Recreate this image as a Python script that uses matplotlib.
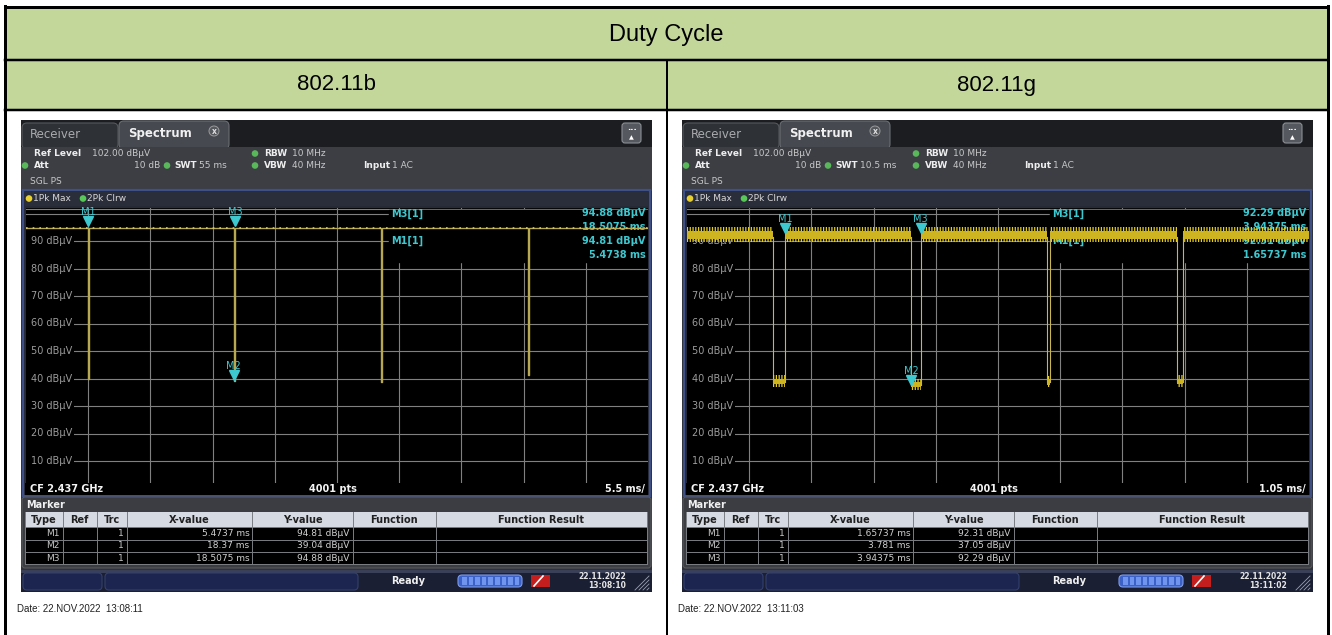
import matplotlib
matplotlib.use("Agg")
import matplotlib.pyplot as plt
from matplotlib.patches import Rectangle, FancyBboxPatch, Circle
from matplotlib import transforms

W, H = 1332, 635

# values
panel_names = ["802.11b", "802.11g"]
sweep_ms = [55.0, 10.5]
swt_text = ["55 ms", "10.5 ms"]
div_text = ["5.5 ms/", "1.05 ms/"]
clock_text = [["22.11.2022", "13:08:10"], ["22.11.2022", "13:11:02"]]
date_text = ["Date: 22.NOV.2022  13:08:11", "Date: 22.NOV.2022  13:11:03"]
level_ticks = [10, 20, 30, 40, 50, 60, 70, 80, 90]

# 802.11b trace: flat top, narrow gaps
b_on_db = 94.85
b_gap_ms = [5.47, 18.37, 31.36, 44.40]
b_gap_db = [40.0, 39.04, 38.6, 41.3]

# 802.11g trace: noisy top band, wider gaps
g_on_lo = 89.8
g_on_hi = 95.0
g_gap_start = [1.45, 3.781, 6.07, 8.27]
g_gap_end = [1.657, 3.944, 6.13, 8.37]
g_gap_db = [38.8, 37.6, 38.6, 38.8]

marker_names = ["M1", "M2", "M3"]
marker_ms = [[5.4737, 18.37, 18.5075], [1.65737, 3.781, 3.94375]]
marker_db = [[94.81, 39.04, 94.88], [92.31, 37.05, 92.29]]
x_value_text = [["5.4737 ms", "18.37 ms", "18.5075 ms"],
                ["1.65737 ms", "3.781 ms", "3.94375 ms"]]
y_value_text = [["94.81 dBµV", "39.04 dBµV", "94.88 dBµV"],
                ["92.31 dBµV", "37.05 dBµV", "92.29 dBµV"]]
info_text = [["94.88 dBµV", "18.5075 ms", "94.81 dBµV", "5.4738 ms"],
             ["92.29 dBµV", "3.94375 ms", "92.31 dBµV", "1.65737 ms"]]

GREEN = "#c4d79b"
GRID = "#808080"
CYAN = "#3ec8d0"
SCREEN_X = [21, 682]

plt.rcParams["font.family"] = ["DejaVu Sans"]
plt.rcParams["hatch.linewidth"] = 0.9
fig = plt.figure(figsize=(W / 100, H / 100), dpi=100)
bg = fig.add_axes([0, 0, 1, 1])
bg.set_xlim(0, W)
bg.set_ylim(H, 0)
bg.axis("off")


def pt(p):
    return p * 0.72


def rect(x, y, w, h, color, **kw):
    bg.add_patch(Rectangle((x, y), w, h, facecolor=color, edgecolor="none", **kw))


def rbox(x, y, w, h, color, edge="none", r=4, lw=0.8):
    bg.add_patch(FancyBboxPatch((x, y), w, h, boxstyle="round,pad=0,rounding_size=%g" % r,
                                facecolor=color, edgecolor=edge, linewidth=lw))


def txt(x, y, s, size=6.5, color="#d8d8d8", weight="normal", ha="left", **kw):
    bg.text(x, y, s, fontsize=size, color=color, fontweight=weight, ha=ha, va="center", **kw)


# ---- the outer table ----
rect(5, 7, 1323, 52, GREEN)
rect(5, 60, 1323, 49, GREEN)
bg.plot([5, 1328], [7, 7], color="black", lw=pt(3))
bg.plot([5, 1328], [59.5, 59.5], color="black", lw=pt(2.5))
bg.plot([5, 1328], [109.5, 109.5], color="black", lw=pt(2.5))
bg.plot([5, 5], [5.5, H], color="black", lw=pt(3))
bg.plot([1328, 1328], [5.5, H], color="black", lw=pt(3))
bg.plot([667, 667], [59.5, H], color="black", lw=pt(2))
bg.text(666, 35, "Duty Cycle", fontsize=17, family="Liberation Sans", ha="center", va="center")
bg.text(336, 85, panel_names[0], fontsize=16, family="Liberation Sans", ha="center", va="center")
bg.text(997, 85, panel_names[1], fontsize=16, family="Liberation Sans", ha="center", va="center")


def draw_chrome(x0, i):
    sw_w = 631
    rect(x0, 120, sw_w, 472, "#2f3136")
    # tab bar
    rect(x0, 120, sw_w, 27, "#1b1d21")
    rbox(x0 + 1, 123, 96, 26, "#2e3136", edge="#54575c", r=5)
    txt(x0 + 9, 134, "Receiver", size=8.5, color="#a9abae")
    rbox(x0 + 98, 121, 110, 28, "#464950", edge="#6a6d72", r=5)
    txt(x0 + 107, 133, "Spectrum", size=8.5, color="#f0f0f0", weight="bold")
    bg.add_patch(Circle((x0 + 193, 131), 5, facecolor="#55585d", edgecolor="#9a9a9a", lw=0.7))
    txt(x0 + 193, 131, "x", size=5.5, color="#e0e0e0", ha="center", weight="bold")
    rbox(x0 + 601, 123, 19, 20, "#55585e", edge="#8c8f94", r=3)
    txt(x0 + 610.5, 128, "...", size=6, color="white", ha="center", weight="bold")
    txt(x0 + 610.5, 137.5, "▲", size=4.5, color="white", ha="center")
    # settings block
    rect(x0, 147, sw_w, 44, "#3c3e43")
    txt(x0 + 13, 153.5, "Ref Level", weight="bold", color="#eeeeee")
    txt(x0 + 71, 153.5, "102.00 dBµV", color="#c8c8c8")
    for yy in (153.5, 165.5):
        bg.add_patch(Circle((x0 + 234, yy), 2.6, color="#58b85a"))
    txt(x0 + 243, 153.5, "RBW", weight="bold", color="#eeeeee")
    txt(x0 + 271, 153.5, "10 MHz", color="#c8c8c8")
    bg.add_patch(Circle((x0 + 4, 165.5), 2.6, color="#58b85a"))
    txt(x0 + 13, 165.5, "Att", weight="bold", color="#eeeeee")
    txt(x0 + 139, 165.5, "10 dB", color="#c8c8c8", ha="right")
    bg.add_patch(Circle((x0 + 146, 165.5), 2.6, color="#58b85a"))
    txt(x0 + 153, 165.5, "SWT", weight="bold", color="#eeeeee")
    txt(x0 + 178, 165.5, swt_text[i], color="#c8c8c8")
    txt(x0 + 243, 165.5, "VBW", weight="bold", color="#eeeeee")
    txt(x0 + 271, 165.5, "40 MHz", color="#c8c8c8")
    txt(x0 + 342, 165.5, "Input", weight="bold", color="#eeeeee")
    txt(x0 + 371, 165.5, "1 AC", color="#c8c8c8")
    txt(x0 + 9, 181, "SGL PS", color="#c8c8c8")
    # diagram frame and trace label bar
    rect(x0 + 2, 190, 627, 306, "#262a36")
    rect(x0 + 4, 192, 623, 14, "#2a2e3a")
    bg.add_patch(Circle((x0 + 8, 198.5), 2.6, color="#e8d030"))
    txt(x0 + 12, 198.5, "1Pk Max", color="#d8d8d8")
    bg.add_patch(Circle((x0 + 62, 198.5), 2.6, color="#58c858"))
    txt(x0 + 66, 198.5, "2Pk Clrw", color="#d8d8d8")
    bg.add_patch(Rectangle((x0 + 2, 190), 627, 306, facecolor="none",
                           edgecolor="#3d5088", lw=pt(2.2)))
    # CF bar
    rect(x0 + 4, 483, 623, 12, "black")
    txt(x0 + 9, 489, "CF 2.437 GHz", size=7, color="#f4f4f4", weight="bold")
    txt(x0 + 312, 489, "4001 pts", size=7, color="#f4f4f4", weight="bold", ha="center")
    txt(x0 + 624, 489, div_text[i], size=7, color="#f4f4f4", weight="bold", ha="right")
    # marker table
    rbox(x0 + 1, 497, 629, 71, "#3b3d42", edge="#55585d", r=3)
    txt(x0 + 5, 504.5, "Marker", size=7, color="#f0f0f0", weight="bold")
    cols = [4, 41.5, 75.7, 105.5, 231.4, 331.6, 414.8, 626]
    heads = ["Type", "Ref", "Trc", "X-value", "Y-value", "Function", "Function Result"]
    rect(x0 + 4, 512, 622, 15, "#d6dae2")
    rect(x0 + 4, 527, 622, 37, "black")
    for k, hname in enumerate(heads):
        txt(x0 + (cols[k] + cols[k + 1]) / 2, 520, hname, size=7, color="#202020",
            weight="bold", ha="center")
    for c in cols:
        bg.plot([x0 + c, x0 + c], [512, 564], color="#7a7d82", lw=0.7)
    for yy in (527, 539.5, 552, 564):
        bg.plot([x0 + 4, x0 + 626], [yy, yy], color="#7a7d82", lw=0.7)
    for r in range(3):
        yy = 533.5 + r * 12.3
        txt(x0 + cols[1] - 3, yy, marker_names[r], color="#c8c8c8", ha="right")
        txt(x0 + cols[3] - 3, yy, "1", color="#c8c8c8", ha="right")
        txt(x0 + cols[4] - 3, yy, x_value_text[i][r], color="#d0d0d0", ha="right")
        txt(x0 + cols[5] - 3, yy, y_value_text[i][r], color="#d0d0d0", ha="right")
    # status bar
    rect(x0, 570, sw_w, 22, "#1a1f33")
    rect(x0, 570, sw_w, 3, "#3a4058")
    rbox(x0 + 2, 573, 79, 17, "#1c2550", edge="#33406e", r=4)
    rbox(x0 + 84, 573, 253, 17, "#1c2550", edge="#33406e", r=4)
    txt(x0 + 387, 581, "Ready", size=7, color="#f0f0f0", weight="bold", ha="center")
    rbox(x0 + 437, 575, 64, 12, "#3c62c8", edge="#7d9be8", r=4)
    for s in range(9):
        rect(x0 + 441 + s * 6.6, 577, 4.6, 8, "#6f95ee")
    rect(x0 + 510, 575, 19, 12, "#c41e1e")
    bg.plot([x0 + 513, x0 + 522], [586, 576], color="white", lw=1.2)
    txt(x0 + 605, 576.5, clock_text[i][0], size=5.5, color="#e6e6e6", weight="bold", ha="right")
    txt(x0 + 605, 585.5, clock_text[i][1], size=5.5, color="#e6e6e6", weight="bold", ha="right")
    for d in range(4):
        bg.plot([x0 + 614 + d * 4, x0 + 628], [590, 576 + d * 4], color="#9aa0b0", lw=0.6)
    bg.text(x0 - 4, 609, date_text[i], fontsize=7, family="Liberation Sans", color="#222222",
            ha="left", va="center")


def draw_trace(ax, i):
    sw = sweep_ms[i]
    if i == 0:
        bx = [0.0]
        by = [b_on_db]
        for t, low in zip(b_gap_ms, b_gap_db):
            bx += [t, t, t + 0.09, t + 0.09]
            by += [b_on_db, low, low, b_on_db]
        bx.append(sw)
        by.append(b_on_db)
        ax.plot(bx, by, color="#b8a850", lw=1.0, zorder=5)
        ax.plot([0, sw], [b_on_db, b_on_db], color="#d8c860", lw=1.2,
                ls=(0, (1, 3)), zorder=5)
    else:
        yel = "#e6cf1c"
        starts = [0.0] + g_gap_end
        ends = g_gap_start + [sw]
        for a, b in zip(starts, ends):
            ax.fill_between([a, b], g_on_lo, g_on_hi, facecolor="none", edgecolor=yel,
                            hatch="||||||", lw=0, zorder=5)
            ax.fill_between([a, b], 90.9, 93.7, color="#cdb420", lw=0, zorder=5)
        for s, e, low in zip(g_gap_start, g_gap_end, g_gap_db):
            ax.plot([s, s], [91.5, low], color="#c8b654", lw=0.8, zorder=5)
            ax.plot([e, e], [low, 91.5], color="#c8b654", lw=0.8, zorder=5)
            ax.fill_between([s, e], low - 1.8, low + 2.4, facecolor="none", edgecolor=yel,
                            hatch="||||||", lw=0, zorder=5)
            ax.fill_between([s, e], low - 0.8, low + 1.2, color="#cdb420", lw=0, zorder=5)


for i in range(2):
    x0 = SCREEN_X[i]
    draw_chrome(x0, i)
    ax = fig.add_axes([(x0 + 5) / W, 1 - 483 / H, 622 / W, 275 / H])
    ax.set_facecolor("black")
    sw = sweep_ms[i]
    ax.set_xlim(0, sw)
    ax.set_ylim(2, 102)
    ax.set_xticks([])
    ax.set_yticks([])
    for sp in ax.spines.values():
        sp.set_visible(False)
    ax.axhline(101.6, color=GRID, lw=0.8, zorder=1)
    for v in range(10, 101, 10):
        ax.axhline(v, color=GRID, lw=0.8, zorder=1)
    for k in range(1, 10):
        ax.axvline(sw * k / 10, color=GRID, lw=0.8, zorder=1)
    ax.add_patch(Rectangle((0.584 * sw, 82.4), 0.42 * sw, 19.0, color="black", zorder=2))
    ax.add_patch(Rectangle((0, 3), 0.007 * sw, 92, color="black", zorder=2))
    trans = transforms.blended_transform_factory(ax.transAxes, ax.transData)
    for v in level_ticks:
        ax.text(5 / 622, v, "%d dBµV" % v, transform=trans, color="#9c9c9c", fontsize=7,
                va="center", ha="left", zorder=3,
                bbox=dict(facecolor="black", edgecolor="none", pad=1.2))
    info = info_text[i]
    ax.text(0.587, 100, "M3[1]", transform=trans, color=CYAN, fontsize=7, weight="bold",
            va="center", zorder=4)
    ax.text(0.587, 90, "M1[1]", transform=trans, color=CYAN, fontsize=7, weight="bold",
            va="center", zorder=4, bbox=dict(facecolor="black", edgecolor="none", pad=0.5))
    for k, yy in enumerate([100, 95.1, 90, 84.9]):
        ax.text(0.996, yy, info[k], transform=trans, color=CYAN, fontsize=7, weight="bold",
                va="center", ha="right", zorder=4)
    draw_trace(ax, i)
    for name, t, v in zip(marker_names, marker_ms[i], marker_db[i]):
        ax.plot(t, v + 2.3, marker="v", color=CYAN, ms=6.5, zorder=7)
        ax.text(t, v + 5.6, name, color=CYAN, fontsize=7, ha="center", va="center", zorder=7)

fig.savefig("out.png", dpi=100)
